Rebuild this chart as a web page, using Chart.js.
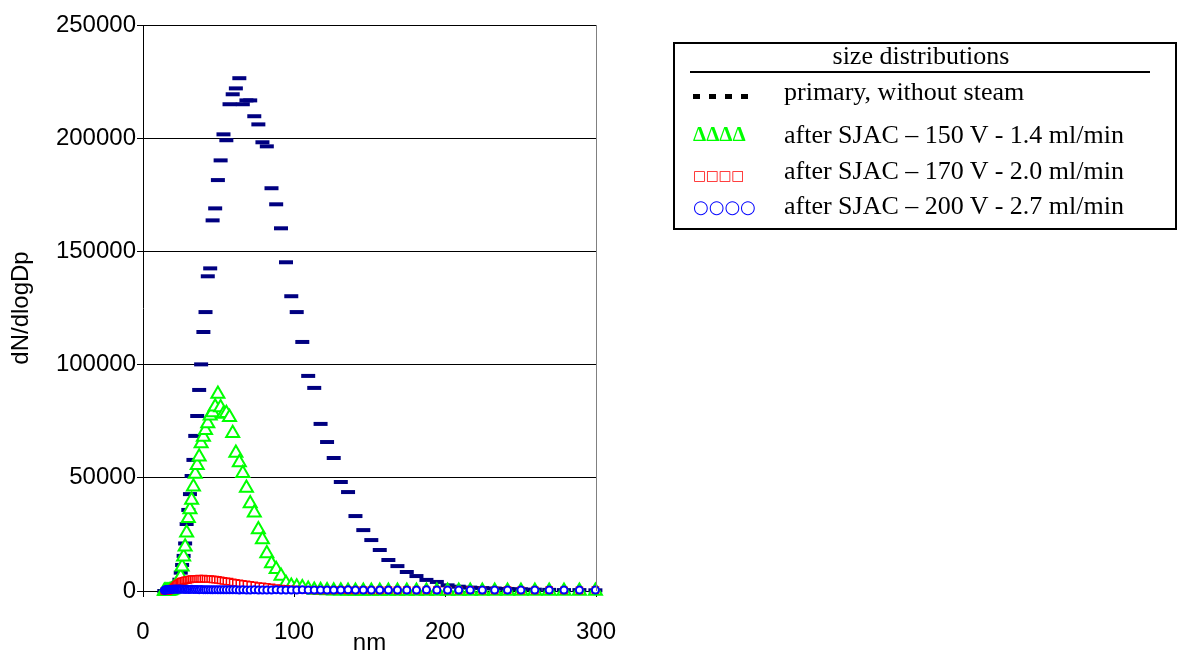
<!DOCTYPE html>
<html>
<head>
<meta charset="utf-8">
<script src="https://cdn.jsdelivr.net/npm/chart.js@4.4.0/dist/chart.umd.min.js"></script>
<style>
html,body{margin:0;padding:0;background:#fff;}
#wrap{position:relative;width:1179px;height:650px;overflow:hidden;}
#c{position:absolute;left:0;top:0;}
#legend{position:absolute;left:673px;top:42px;width:504px;height:188px;border:2px solid #000;box-sizing:border-box;font-family:"Liberation Serif","Times New Roman",serif;font-size:26px;color:#000;background:#fff;}
#legend .t{position:absolute;white-space:nowrap;line-height:30px;}
#legend .ttl{left:0;width:492px;text-align:center;top:-3px;}
#legend .rule{position:absolute;left:15px;top:27px;width:460px;height:2px;background:#000;}
#legend .row{left:109px;}
#legend .dash{position:absolute;top:50px;width:7px;height:5px;background:#000;}
#legend .sym{position:absolute;left:18px;white-space:nowrap;}
</style>
</head>
<body>
<div id="wrap">
<canvas id="c" width="1179" height="650"></canvas>
<div id="legend">
  <div class="t ttl">size distributions</div>
  <div class="rule"></div>
  <div class="dash" style="left:18px"></div>
  <div class="dash" style="left:34px"></div>
  <div class="dash" style="left:50px"></div>
  <div class="dash" style="left:66px"></div>
  <div class="t row" style="top:33px">primary, without steam</div>
  <div class="sym" style="top:80px;font:bold 21px/21px 'Liberation Serif',serif;color:#00FF00;">ΔΔΔΔ</div>
  <div class="t row" style="top:76px">after SJAC – 150 V - 1.4 ml/min</div>
  <div class="sym" style="top:124px;font:13.5px/14px 'DejaVu Sans',sans-serif;color:#FF0000;">□□□□</div>
  <div class="t row" style="top:112px">after SJAC – 170 V - 2.0 ml/min</div>
  <div class="sym" style="top:154px;font:18px/18px 'DejaVu Sans',sans-serif;color:#0000FF;">○○○○</div>
  <div class="t row" style="top:147px">after SJAC – 200 V - 2.7 ml/min</div>
</div>
</div>
<script>
// particle diameter (nm)
const diameters = [
  14.1,14.6,15.1,15.7,16.3,16.8,17.5,18.1,18.8,19.5,
  20.2,20.9,21.7,22.5,23.3,24.1,25.0,25.9,26.9,27.9,
  28.9,30.0,31.1,32.2,33.4,34.6,35.9,37.2,38.5,40.0,
  41.4,42.9,44.5,46.1,47.8,49.6,51.4,53.3,55.2,57.3,
  59.4,61.5,63.8,66.1,68.5,71.0,73.7,76.4,79.1,82.0,
  85.1,88.2,91.4,94.7,98.2,101.8,105.5,109.4,113.4,117.6,
  121.9,126.3,131.0,135.8,140.7,145.9,151.2,156.8,162.5,168.5,
  174.7,181.1,187.7,194.6,201.7,209.1,216.7,224.7,232.9,241.4,
  250.3,259.5,269.0,278.8,289.0,299.6
];
// primary, without steam
const primary = [
  0,0,0,0,0,100,100,200,300,500,
  700,1000,1500,2200,3200,5000,8100,11500,15500,21000,
  29600,35800,42800,50800,57900,68500,77300,88800,100100,114400,
  123200,139000,142500,163700,169000,181500,190200,201700,199100,215000,
  219400,222000,226500,215000,216700,216700,209700,206100,198200,196400,
  177900,170800,160200,145200,130200,123200,110000,95000,89700,73800,
  65800,58750,48150,43700,33100,26900,22500,18100,13700,11000,
  8400,6600,4900,4000,2500,1900,1500,1300,1100,900,
  800,600,500,400,400,300
];
// after SJAC 150 V 1.4 ml/min
const sjac150 = [
  0,0,0,0,0,0,100,200,400,700,
  1000,1500,2200,3000,4000,5000,6300,10700,15100,19600,
  25700,32100,36000,40200,46000,51700,55500,59300,65200,68000,
  71000,74000,77400,78800,81400,87000,81000,78200,78500,76700,
  69700,61000,56800,52000,45500,38700,34600,27200,22800,16600,
  12200,9600,6600,3400,2200,1900,1600,900,400,300,
  200,100,100,0,0,0,0,0,0,0,
  0,0,0,0,0,0,0,0,0,0,
  0,0,0,0,0,0
];
// after SJAC 170 V 2.0 ml/min
const sjac170 = [
  0,0,0,0,100,200,300,500,800,1200,
  1600,2100,2600,3000,3400,3800,4100,4300,4500,4700,
  4800,4900,5100,5200,5300,5300,5400,5500,5400,5500,
  5400,5300,5300,5100,5000,4900,4700,4500,4300,4100,
  3800,3600,3400,3100,2900,2700,2500,2200,2000,1800,
  1600,1300,1100,900,700,600,500,400,300,300,
  300,300,400,300,300,400,300,300,400,300,
  400,300,300,400,300,300,400,300,300,400,
  300,300,400,300,300,400
];
// after SJAC 200 V 2.7 ml/min
const sjac200 = [
  300,400,500,500,600,600,700,700,700,800,
  800,800,900,800,800,900,800,800,800,700,
  800,700,700,800,700,700,700,600,700,600,
  600,600,600,500,600,500,500,500,500,500,
  500,500,400,500,400,400,500,400,400,400,
  400,500,400,400,400,400,500,400,400,400,
  400,400,400,500,400,400,400,400,400,400,
  400,400,500,400,400,400,400,400,400,400,
  400,400,400,400,400,400
];
const xTicks = [0, 100, 200, 300];
const yTicks = [0, 50000, 100000, 150000, 200000, 250000];

function pts(vals){ return diameters.map((d,i)=>({x:d, y:vals[i]})); }

const borderPlugin = {
  id:'plotBorder',
  afterDatasetsDraw(chart){
    const {ctx, chartArea:a} = chart;
    ctx.save();
    ctx.strokeStyle = '#808080';
    ctx.lineWidth = 1;
    ctx.beginPath();
    ctx.moveTo(Math.round(a.right)+0.5, a.top);
    ctx.lineTo(Math.round(a.right)+0.5, a.bottom);
    ctx.stroke();
    ctx.restore();
  }
};

const fam = "'Liberation Sans', Arial, sans-serif";
const tickFont = {family:fam, size:24};

new Chart(document.getElementById('c'), {
  type:'scatter',
  data:{
    datasets:[
      {label:'primary, without steam', data:pts(primary), pointStyle:'line', pointRadius:7,
       pointBorderColor:'#000080', pointBackgroundColor:'#000080', pointBorderWidth:4, order:4, clip:false},
      {label:'after SJAC – 150 V - 1.4 ml/min', data:pts(sjac150), pointStyle:'triangle', pointRadius:7.5,
       pointBorderColor:'#00FF00', pointBackgroundColor:'#FFFFFF', pointBorderWidth:2, order:3, clip:false},
      {label:'after SJAC – 170 V - 2.0 ml/min', data:pts(sjac170), pointStyle:'rect', pointRadius:4.4,
       pointBorderColor:'#FF0000', pointBackgroundColor:'#FFFFFF', pointBorderWidth:1.5, order:2, clip:false},
      {label:'after SJAC – 200 V - 2.7 ml/min', data:pts(sjac200), pointStyle:'circle', pointRadius:3.5,
       pointBorderColor:'#0000FF', pointBackgroundColor:'#FFFFFF', pointBorderWidth:2, order:1, clip:false}
    ]
  },
  options:{
    responsive:false,
    devicePixelRatio:1,
    animation:false,
    events:[],
    layout:{padding:{left:0, top:25, right:583, bottom:0}},
    plugins:{legend:{display:false}, tooltip:{enabled:false}},
    scales:{
      x:{
        type:'linear', min:0, max:300,
        afterBuildTicks:s=>{ s.ticks = xTicks.map(v=>({value:v})); },
        afterFit:s=>{ s.height = 59; },
        grid:{drawOnChartArea:false, drawTicks:true, tickLength:6, color:'#000', lineWidth:1},
        border:{display:true, color:'#000', width:1},
        ticks:{font:tickFont, color:'#000', padding:21, maxRotation:0, autoSkip:false},
        title:{display:true, text:'nm', font:tickFont, color:'#000', padding:{top:0, bottom:-8}}
      },
      y:{
        type:'linear', min:0, max:250000,
        afterBuildTicks:s=>{ s.ticks = yTicks.map(v=>({value:v})); },
        afterFit:s=>{ s.width = 143; },
        grid:{drawOnChartArea:true, drawTicks:true, tickLength:6, color:'#000', lineWidth:1},
        border:{display:true, color:'#000', width:1},
        ticks:{font:tickFont, color:'#000', padding:1, autoSkip:false,
               callback:v=>String(v)},
        title:{display:true, text:'dN/dlogDp', font:{family:fam, size:24}, color:'#000', padding:{top:7, bottom:0}}
      }
    }
  },
  plugins:[borderPlugin]
});
</script>
</body>
</html>
